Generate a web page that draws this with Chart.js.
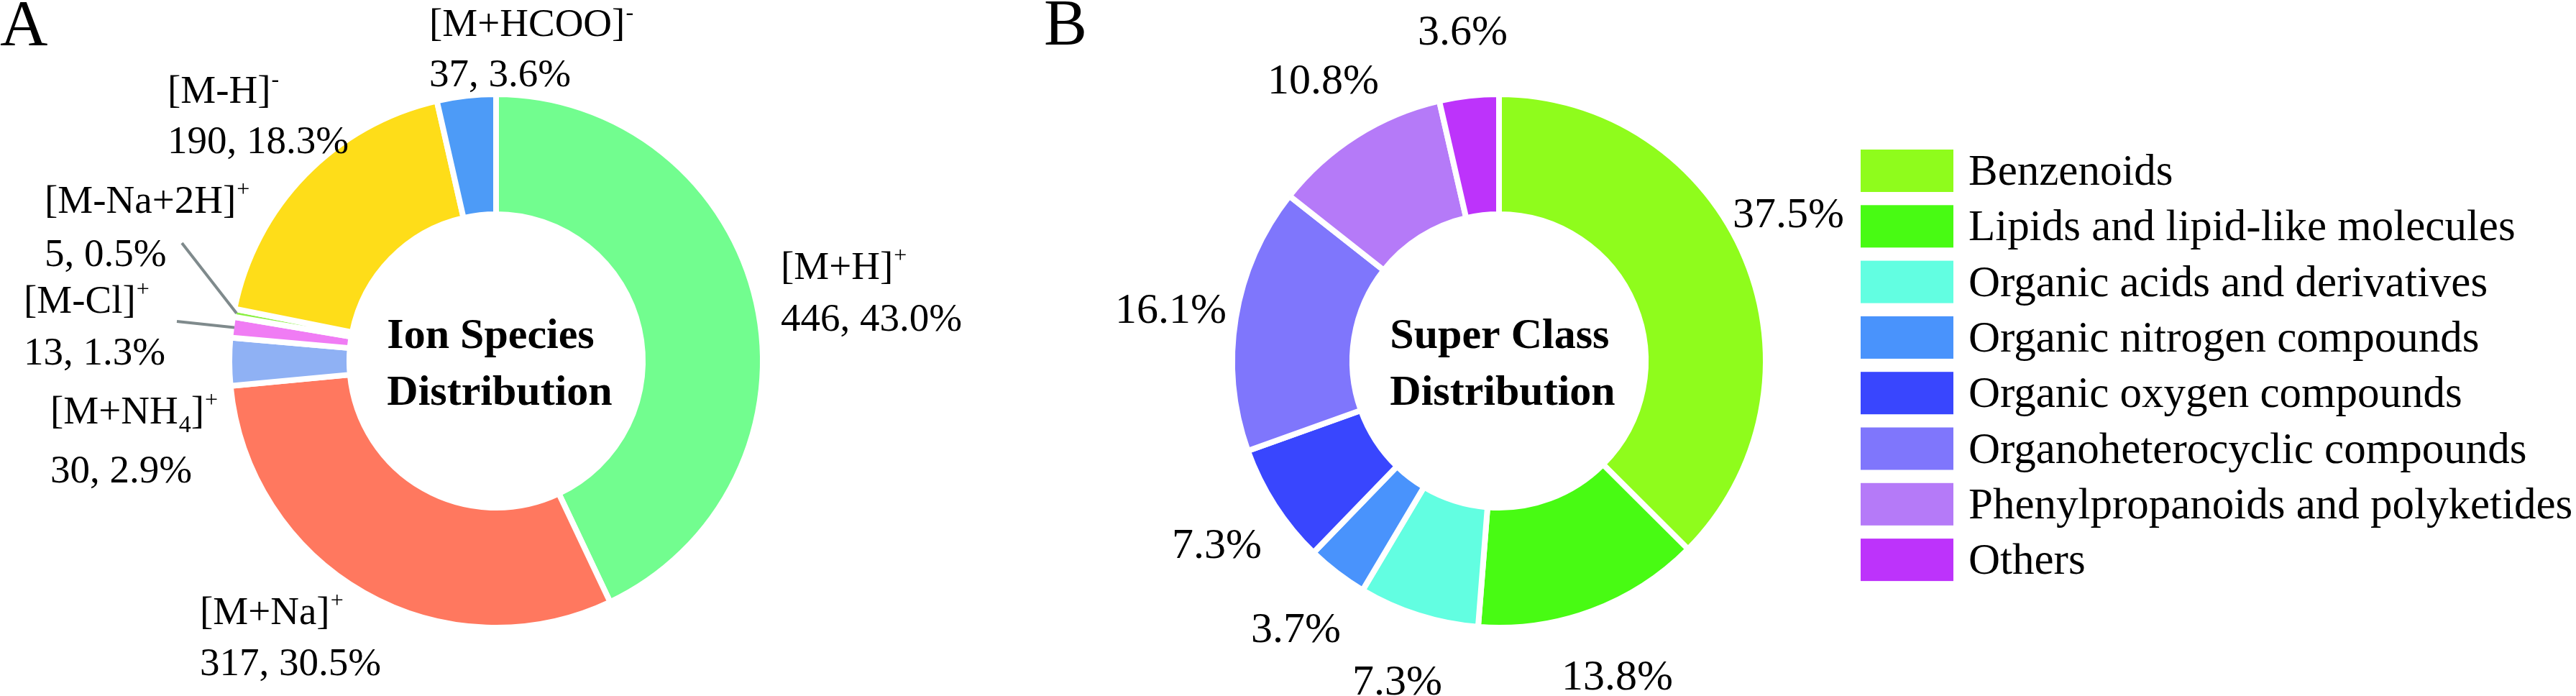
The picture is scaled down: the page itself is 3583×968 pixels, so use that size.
<!DOCTYPE html>
<html>
<head>
<meta charset="utf-8">
<title>Ion species / super class distribution</title>
<script src="https://cdn.jsdelivr.net/npm/chart.js@4.4.1/dist/chart.umd.min.js"></script>
<style>
  body { margin: 0; background: #fff; }
  #wrap { position: relative; width: 3583px; height: 968px; overflow: hidden; }
  #ionChart { position: absolute; left: 0; top: 0; }
  #classChart { position: absolute; left: 1400px; top: 0; }
</style>
</head>
<body>
<div id="wrap">
  <canvas id="ionChart" width="1400" height="968"></canvas>
  <canvas id="classChart" width="2183" height="968"></canvas>
</div>
<script>
// A - ion species (counts), ^ = superscript, _ = subscript
var ionLabels = ['[M+H]^+', '[M+Na]^+', '[M+NH_4]^+', '[M-Cl]^+', '[M-Na+2H]^+', '[M-H]^-', '[M+HCOO]^-'];
var ionCounts = [446, 317, 30, 13, 5, 190, 37];

// B - super class (percent)
var classLabels = ['Benzenoids', 'Lipids and lipid-like molecules', 'Organic acids and derivatives',
  'Organic nitrogen compounds', 'Organic oxygen compounds', 'Organoheterocyclic compounds',
  'Phenylpropanoids and polyketides', 'Others'];
var classPercents = [37.5, 13.8, 7.3, 3.7, 7.3, 16.1, 10.8, 3.6];

var ionColors = ['#72fd8f', '#ff785f', '#8fb1f4', '#f07cf4', '#8cf043', '#fedd19', '#4d9bf7'];
var classColors = ['#8ffc1c', '#48fb13', '#62fee1', '#4993fc', '#3946fe', '#7f76fc', '#b57af8', '#bd33fb'];

var FONT = '"Liberation Serif", "Times New Roman", serif';

// label placement, offsets from the donut centre: [dx, baseline line 1, baseline line 2]
var ionLabelPos = [[396, -114, -42], [-412, 366, 437], [-620, 87, 169], [-657, -67, 5],
  [-628, -206, -132], [-457, -359, -289], [-93, -452, -382]];
// leader lines for the thin slices (start point, end is on the slice)
var ionLeaders = { 3: [-444, -55], 4: [-437, -164] };
// [dx, baseline]
var classLabelPos = [[325, -186], [87, 457], [-204, 464], [-345, 391], [-455, 274],
  [-534, -53], [-322, -372], [-113, -440]];

function plain(s) { return s.replace(/[\^_]/g, ''); }

function drawRich(ctx, str, x, y, size) {
	var i = 0, cx = x;
	while (i < str.length) {
		var ch = str[i];
		if (ch === '^' || ch === '_') {
			var t = str[i + 1];
			var small = ch === '^' ? size * 0.58 : size * 0.62;
			ctx.font = Math.round(small) + 'px ' + FONT;
			var dy = ch === '^' ? -size * 0.42 : size * 0.22;
			ctx.fillText(t, cx + 1, y + dy);
			cx += ctx.measureText(t).width + 1;
			i += 2;
		} else {
			var j = i;
			while (j < str.length && str[j] !== '^' && str[j] !== '_') j++;
			var run = str.slice(i, j);
			ctx.font = size + 'px ' + FONT;
			ctx.fillText(run, cx, y);
			cx += ctx.measureText(run).width;
			i = j;
		}
	}
	return cx;
}

function drawCentre(ctx, lines, cx, cy) {
	ctx.font = 'bold 60px ' + FONT;
	var w = Math.max(ctx.measureText(lines[0]).width, ctx.measureText(lines[1]).width);
	var x = cx - w / 2 + 5;
	ctx.fillText(lines[0], x, cy - 18);
	ctx.fillText(lines[1], x, cy + 61);
}

var ionPlugin = {
	id: 'ionText',
	afterDraw: function(chart) {
		var ctx = chart.ctx;
		var arcs = chart.getDatasetMeta(0).data;
		var cx = arcs[0].x, cy = arcs[0].y;
		var total = ionCounts.reduce(function(a, b) { return a + b; }, 0);
		ctx.save();
		ctx.fillStyle = '#000';
		ctx.textAlign = 'left';
		ctx.textBaseline = 'alphabetic';

		ctx.strokeStyle = '#7f8a8c';
		ctx.lineWidth = 4;
		Object.keys(ionLeaders).forEach(function(k) {
			var p = arcs[k].getProps(['startAngle', 'endAngle', 'outerRadius'], true);
			var mid = (p.startAngle + p.endAngle) / 2;
			var r = p.outerRadius - 4;
			ctx.beginPath();
			ctx.moveTo(cx + ionLeaders[k][0], cy + ionLeaders[k][1]);
			ctx.lineTo(cx + Math.cos(mid) * r, cy + Math.sin(mid) * r);
			ctx.stroke();
		});

		ionLabels.forEach(function(lab, i) {
			var p = ionLabelPos[i];
			drawRich(ctx, lab, cx + p[0], cy + p[1], 55);
			ctx.font = '55px ' + FONT;
			var pct = (ionCounts[i] / total * 100).toFixed(1);
			ctx.fillText(ionCounts[i] + ', ' + pct + '%', cx + p[0], cy + p[2]);
		});

		drawCentre(ctx, ['Ion Species', 'Distribution'], cx, cy);
		ctx.font = '92px ' + FONT;
		ctx.fillText('A', 0, 63);
		ctx.restore();
	}
};

var classPlugin = {
	id: 'classText',
	afterDraw: function(chart) {
		var ctx = chart.ctx;
		var arcs = chart.getDatasetMeta(0).data;
		var cx = arcs[0].x, cy = arcs[0].y;
		ctx.save();
		ctx.fillStyle = '#000';
		ctx.textAlign = 'left';
		ctx.textBaseline = 'alphabetic';

		ctx.font = '60px ' + FONT;
		classPercents.forEach(function(v, i) {
			var p = classLabelPos[i];
			ctx.fillText(v.toFixed(1) + '%', cx + p[0], cy + p[1]);
		});

		drawCentre(ctx, ['Super Class', 'Distribution'], cx, cy);

		// legend
		var lx = 1188, ly = 208, step = 77.3;
		classLabels.forEach(function(lab, i) {
			var y = ly + i * step;
			ctx.fillStyle = classColors[i];
			ctx.fillRect(lx, y, 129, 59);
			ctx.fillStyle = '#000';
			ctx.font = '61px ' + FONT;
			ctx.fillText(lab, lx + 150, y + 49);
		});

		ctx.font = '90px ' + FONT;
		ctx.fillText('B', 52, 62);
		ctx.restore();
	}
};

function donutOptions(padding) {
	return {
		responsive: false,
		animation: false,
		devicePixelRatio: 1,
		events: [],
		cutout: '55%',
		layout: { padding: padding },
		plugins: { legend: { display: false }, tooltip: { enabled: false } }
	};
}

new Chart(document.getElementById('ionChart'), {
	type: 'doughnut',
	data: {
		labels: ionLabels.map(plain),
		datasets: [{ data: ionCounts, backgroundColor: ionColors, borderColor: '#ffffff', borderWidth: 8 }]
	},
	options: donutOptions({ left: 315, right: 335, top: 127, bottom: 91 }),
	plugins: [ionPlugin]
});

new Chart(document.getElementById('classChart'), {
	type: 'doughnut',
	data: {
		labels: classLabels,
		datasets: [{ data: classPercents, backgroundColor: classColors, borderColor: '#ffffff', borderWidth: 8 }]
	},
	options: donutOptions({ left: 310, right: 1123, top: 127, bottom: 91 }),
	plugins: [classPlugin]
});
</script>
</body>
</html>
